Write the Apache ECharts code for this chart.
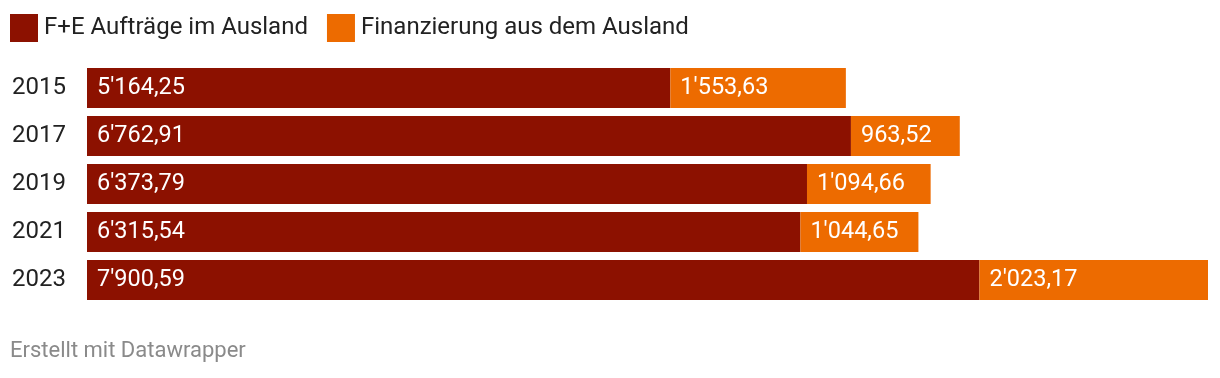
<!DOCTYPE html>
<html>
<head>
<meta charset="utf-8">
<script src="https://cdn.jsdelivr.net/npm/echarts@6/dist/echarts.min.js"></script>
<style>
  html, body { margin: 0; padding: 0; background: #fff; }
  #chart { width: 1220px; height: 378px; }
</style>
</head>
<body>
<div id="chart"></div>
<script>
const years = ["2015", "2017", "2019", "2021", "2023"];
const auftraege = [5164.25, 6762.91, 6373.79, 6315.54, 7900.59];
const finanzierung = [1553.63, 963.52, 1094.66, 1044.65, 2023.17];
const seriesNames = ["F+E Aufträge im Ausland", "Finanzierung aus dem Ausland"];

function fmt(v) {
    const parts = v.toFixed(2).split(".");
    const int = parts[0].replace(/\B(?=(\d{3})+(?!\d))/g, "'");
    return int + "," + parts[1];
}

const maxTotal = Math.max(...auftraege.map((v, i) => v + finanzierung[i]));

const chart = echarts.init(document.getElementById("chart"));

const labelStyle = {
    show: true,
    position: "insideLeft",
    distance: 10,
    color: "#fff",
    fontSize: 23.5,
    fontFamily: "Roboto",
    formatter: p => fmt(p.value)
};

chart.setOption({
    animation: false,
    textStyle: { fontFamily: "Roboto" },
    legend: {
        left: 10,
        top: 14,
        padding: 0,
        itemWidth: 28,
        itemHeight: 28,
        itemGap: 19,
        icon: "rect",
        textStyle: {
            fontSize: 24,
            color: "#222",
            fontFamily: "Roboto",
            padding: [0, 0, 0, 1]
        },
        data: seriesNames
    },
    grid: {
        left: 87,
        right: 12,
        top: 64,
        bottom: 74,
        containLabel: false
    },
    xAxis: {
        type: "value",
        min: 0,
        max: maxTotal,
        show: false
    },
    yAxis: {
        type: "category",
        data: years,
        inverse: true,
        axisLine: { show: false },
        axisTick: { show: false },
        splitLine: { show: false },
        axisLabel: {
            align: "left",
            margin: 75,
            fontSize: 24,
            color: "#222",
            fontFamily: "Roboto"
        }
    },
    series: [
        {
            name: seriesNames[0],
            type: "bar",
            stack: "total",
            barWidth: 40,
            itemStyle: { color: "#8c1100" },
            label: labelStyle,
            data: auftraege
        },
        {
            name: seriesNames[1],
            type: "bar",
            stack: "total",
            barWidth: 40,
            itemStyle: { color: "#ed6b00" },
            label: labelStyle,
            data: finanzierung
        }
    ],
    graphic: [
        {
            type: "text",
            left: 10,
            top: 340,
            style: {
                text: "Erstellt mit Datawrapper",
                fontSize: 22,
                fill: "#8a8a8a",
                fontFamily: "Roboto"
            }
        }
    ]
});
</script>
</body>
</html>
